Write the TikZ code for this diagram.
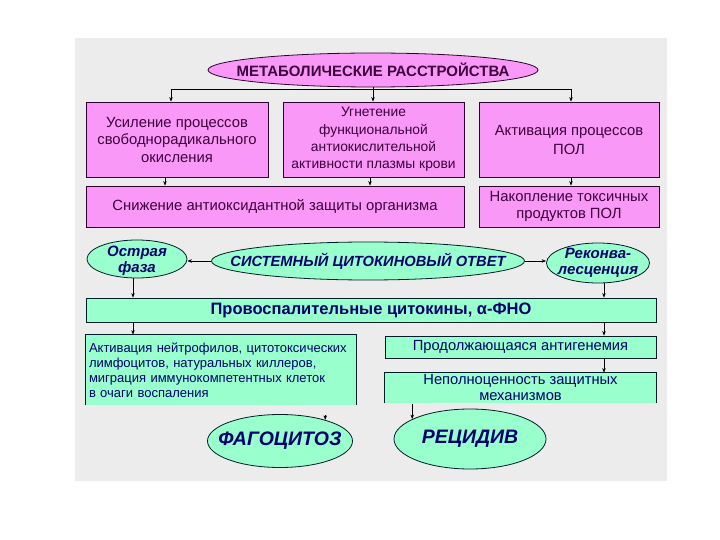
\documentclass[tikz,border=0pt]{standalone}
\usepackage{fontspec}
\setmainfont{Liberation Sans}
\usetikzlibrary{shapes.geometric,arrows.meta}
\definecolor{panel}{RGB}{236,236,236}
\definecolor{pinkfill}{RGB}{250,152,248}
\definecolor{pinkline}{RGB}{45,0,45}
\definecolor{pinktext}{RGB}{60,0,60}
\definecolor{greenfill}{RGB}{153,255,204}
\definecolor{greenline}{RGB}{0,30,40}
\definecolor{bluetext}{RGB}{0,0,110}
\begin{document}
\begin{tikzpicture}[x=1pt,y=-1pt,
  pbox/.style={draw=pinkline, fill=pinkfill, line width=0.8pt, inner sep=0pt,
    align=center, text=pinktext, font=\fontsize{14.8}{17.5}\selectfont},
  gbox/.style={draw=greenline, fill=greenfill, line width=0.8pt, inner sep=0pt,
    align=center, text=bluetext, font=\fontsize{14.7}{16}\selectfont},
  pell/.style={ellipse, draw=pinkline, fill=pinkfill, line width=0.8pt, inner sep=0pt},
  gell/.style={ellipse, draw=greenline, fill=greenfill, line width=0.8pt, inner sep=0pt},
  bitext/.style={text=bluetext, align=center, inner sep=0pt,
    font=\bfseries\itshape\fontsize{15}{16.5}\selectfont},
  arr/.style={-{Stealth[length=4.5pt,width=3.5pt]}, line width=0.6pt, draw=black},
  ln/.style={line width=0.6pt, draw=black}]
\useasboundingbox (0,0) rectangle (720,540);
\fill[panel] (75,38) rectangle (667,481);

% top ellipse
\node[pell, minimum width=330pt, minimum height=34pt] (M) at (373,70) {};
\node[text=pinktext, inner sep=0pt, font=\bfseries\fontsize{15}{17}\selectfont] (Mt) at (M.center) {МЕТАБОЛИЧЕСКИЕ РАССТРОЙСТВА};

% row 1
\node[pbox, minimum width=182pt, minimum height=75pt] (b1) at (177,139.5)
  {Усиление процессов\\свободнорадикального\\окисления};
\node[pbox, minimum width=181pt, minimum height=75pt, font=\fontsize{13.8}{17.3}\selectfont] (b2) at (373.5,139.5)
  {Угнетение\\функциональной\\антиокислительной\\активности плазмы крови};
\node[pbox, minimum width=180pt, minimum height=75pt, font=\fontsize{14.8}{19}\selectfont] (b3) at (569,139.5)
  {Активация процессов\\ПОЛ};

% row 2
\node[pbox, minimum width=378pt, minimum height=41pt] (c1) at (275,206.5)
  {Снижение антиоксидантной защиты организма};
\node[pbox, minimum width=180pt, minimum height=41pt, font=\fontsize{14.8}{17}\selectfont] (c2) at (569,206.5)
  {Накопление токсичных\\продуктов ПОЛ};

% connectors top
\coordinate (j1) at (171,89);
\coordinate (j3) at (571,89);
\draw[ln] (M.south) -- (M.south |- j1);
\draw[ln] (j1) -- (j3);
\draw[arr] (j1) -- (j1 |- b1.north);
\draw[arr] (M.south |- j1) -- (M.south |- b2.north);
\draw[arr] (j3) -- (j3 |- b3.north);
\draw[arr] ([xshift=-12pt]b1.south) -- ([xshift=-12pt]b1.south |- c1.north);
\draw[arr] ([xshift=-3.5pt]b2.south) -- ([xshift=-3.5pt]b2.south |- c1.north);
\draw[arr] ([xshift=2pt]b3.south) -- ([xshift=2pt]b3.south |- c2.north);

% row 3 ellipses
\node[gell, minimum width=100pt, minimum height=38pt] (ostr) at (137,259) {};
\node[bitext] (ostrt) at ([yshift=-2pt]ostr.center) {Острая\\фаза};
\node[gell, minimum width=313pt, minimum height=38pt] (sys) at (368,261) {};
\node[bitext, font=\bfseries\itshape\fontsize{14.7}{16}\selectfont] (syst) at (sys.center) {СИСТЕМНЫЙ ЦИТОКИНОВЫЙ ОТВЕТ};
\node[gell, minimum width=103pt, minimum height=40pt] (rek) at (598,263) {};
\node[bitext] (rekt) at (rek.center) {Реконва-\\лесценция};
\draw[arr] (sys.west) -- (sys.west -| ostr.east);
\draw[arr] (sys.east) -- (sys.east -| rek.west);

% row 4
\node[gbox, minimum width=570pt, minimum height=24pt,
  font=\bfseries\fontsize{16.5}{18}\selectfont] (pro) at (371,310)
  {Провоспалительные цитокины, α-ФНО};
\draw[arr] ([xshift=-4pt]ostr.south) -- ([xshift=-4pt]ostr.south |- pro.north);
\draw[arr] ([xshift=6pt]rek.south) -- ([xshift=6pt]rek.south |- pro.north);

% row 5 left
\node[gbox, draw=none, minimum width=270pt, minimum height=70pt, text width=264pt,
  align=left, font=\fontsize{13}{15}\selectfont] (akt) at (221,370)
  {Активация нейтрофилов, цитотоксических\\лимфоцитов, натуральных киллеров,\\миграция иммунокомпетентных клеток\\в очаги воспаления};
\draw[ln, line width=0.8pt, draw=greenline] (akt.south west) -- (akt.north west) -- (akt.north east) -- (akt.south east);
\draw[arr] (pro.south -| ostr.south) ++(-4pt,0) coordinate (pa) -- (pa |- akt.north);

% row 5 right
\node[gbox, minimum width=271pt, minimum height=22pt] (prod) at (520.5,347)
  {Продолжающаяся антигенемия};
\node[gbox, draw=none, minimum width=271pt, minimum height=30pt] (nep) at (520.5,388)
  {Неполноценность защитных\\механизмов};
\draw[ln, line width=0.8pt, draw=greenline] (nep.south west) -- (nep.north west) -- (nep.north east) -- (nep.south east);
\draw[arr] ([xshift=6pt]rek.south |- pro.south) -- ([xshift=6pt]rek.south |- prod.north);
\draw[arr] ([xshift=6pt]rek.south |- prod.south) -- ([xshift=6pt]rek.south |- nep.north);

% bottom ellipses
\node[gell, minimum width=145pt, minimum height=53pt] (fag) at (280,441) {};
\node[bitext, font=\bfseries\itshape\fontsize{19.5}{22}\selectfont] (fagt) at (fag.center) {ФАГОЦИТОЗ};
\node[gell, minimum width=152pt, minimum height=60pt] (rec) at (470,439) {};
\node[bitext, font=\bfseries\itshape\fontsize{19.5}{22}\selectfont] (rect) at (rec.center) {РЕЦИДИВ};
\draw[arr] (akt.south -| fag.25) ++(0,-10pt) coordinate (fa) -- (fag.25);
\draw[arr] (nep.south -| rec.161) ++(0,-1pt) coordinate (ra) -- (rec.161);
\end{tikzpicture}
\end{document}
